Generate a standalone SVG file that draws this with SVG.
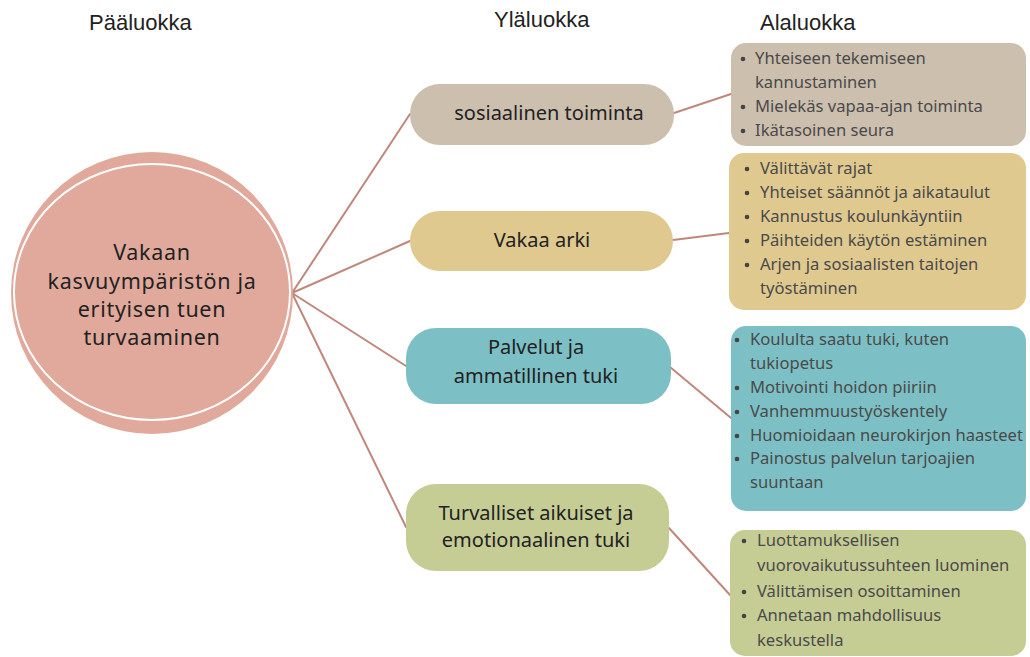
<svg xmlns="http://www.w3.org/2000/svg" width="1030" height="657" viewBox="0 0 1030 657">
<style>
.hdr{font-family:"Liberation Sans",Arial,sans-serif;font-size:22px;fill:#222}
.main{font-family:"Noto Sans","Open Sans",sans-serif;font-size:21.5px;letter-spacing:0.7px;fill:#222;text-anchor:middle}
.pill{font-family:"Noto Sans","Open Sans",sans-serif;font-size:20px;fill:#222;text-anchor:middle}
.li{font-family:"Noto Sans","Open Sans",sans-serif;font-size:16.6px;fill:#4a4a4a}
.conn{stroke:#c0877c;stroke-width:2;fill:none;stroke-linecap:round}
.dot{fill:#444}
</style>
<rect width="1030" height="657" fill="#ffffff"/>
<g id="headers">
<text class="hdr" x="89" y="30">Pääluokka</text>
<text class="hdr" x="494" y="27">Yläluokka</text>
<text class="hdr" x="760" y="30">Alaluokka</text>
</g>
<g id="connectors">
<path class="conn" d="M292 293 L410 114 M292 293 L410 241 M292 293 L406 366 M292 293 L406 527"/>
<path class="conn" d="M674 113 L731 94 M673 240 L729 233 M670 367 L731 418 M669 528 L730 595"/>
</g>
<g id="main">
<ellipse cx="152" cy="293" rx="141" ry="141" fill="#e0a99b"/>
<ellipse cx="152" cy="292" rx="138" ry="128" fill="none" stroke="#ffffff" stroke-width="2"/>
<text class="main" x="152" y="260">Vakaan</text>
<text class="main" x="152" y="289">kasvuympäristön ja</text>
<text class="main" x="152" y="317">erityisen tuen</text>
<text class="main" x="152" y="345">turvaaminen</text>
</g>
<g id="pill1">
<rect x="410" y="84" width="264" height="61" rx="30" fill="#ccbfae"/>
<text class="pill" x="549" y="120">sosiaalinen toiminta</text>
</g>
<g id="pill2">
<rect x="410" y="211" width="263" height="60" rx="30" fill="#dfc98f"/>
<text class="pill" x="542" y="247">Vakaa arki</text>
</g>
<g id="pill3">
<rect x="406" y="328" width="265" height="76" rx="30" fill="#7cc0c5"/>
<text class="pill" x="536" y="354">Palvelut ja</text>
<text class="pill" x="536" y="383">ammatillinen tuki</text>
</g>
<g id="pill4">
<rect x="406" y="484" width="263" height="87" rx="30" fill="#c5cd95"/>
<text class="pill" x="536" y="520">Turvalliset aikuiset ja</text>
<text class="pill" x="536" y="547">emotionaalinen tuki</text>
</g>
<g id="box1">
<rect x="731" y="43" width="295" height="103" rx="15" fill="#ccbfae"/>
<circle class="dot" cx="743" cy="59" r="2.3"/>
<circle class="dot" cx="743" cy="107" r="2.3"/>
<circle class="dot" cx="743" cy="131" r="2.3"/>
<text class="li" x="755" y="64">Yhteiseen tekemiseen</text>
<text class="li" x="755" y="88">kannustaminen</text>
<text class="li" x="755" y="112">Mielekäs vapaa-ajan toiminta</text>
<text class="li" x="755" y="136">Ikätasoinen seura</text>
</g>
<g id="box2">
<rect x="729" y="153" width="297" height="157" rx="15" fill="#dfc98f"/>
<circle class="dot" cx="747" cy="169" r="2.3"/>
<circle class="dot" cx="747" cy="193" r="2.3"/>
<circle class="dot" cx="747" cy="217" r="2.3"/>
<circle class="dot" cx="747" cy="241" r="2.3"/>
<circle class="dot" cx="747" cy="265" r="2.3"/>
<text class="li" x="760" y="174">Välittävät rajat</text>
<text class="li" x="760" y="198">Yhteiset säännöt ja aikataulut</text>
<text class="li" x="760" y="222">Kannustus koulunkäyntiin</text>
<text class="li" x="760" y="246">Päihteiden käytön estäminen</text>
<text class="li" x="760" y="270">Arjen ja sosiaalisten taitojen</text>
<text class="li" x="760" y="294">työstäminen</text>
</g>
<g id="box3">
<rect x="731" y="326" width="295" height="185" rx="15" fill="#7cc0c5"/>
<circle class="dot" cx="737" cy="340" r="2.3"/>
<circle class="dot" cx="737" cy="388" r="2.3"/>
<circle class="dot" cx="737" cy="412" r="2.3"/>
<circle class="dot" cx="737" cy="436" r="2.3"/>
<circle class="dot" cx="737" cy="459" r="2.3"/>
<text class="li" x="750" y="345">Koululta saatu tuki, kuten</text>
<text class="li" x="750" y="369">tukiopetus</text>
<text class="li" x="750" y="393">Motivointi hoidon piiriin</text>
<text class="li" x="750" y="417">Vanhemmuustyöskentely</text>
<text class="li" x="750" y="441">Huomioidaan neurokirjon haasteet</text>
<text class="li" x="750" y="464">Painostus palvelun tarjoajien</text>
<text class="li" x="750" y="488">suuntaan</text>
</g>
<g id="box4">
<rect x="730" y="530" width="296" height="126" rx="15" fill="#c5cd95"/>
<circle class="dot" cx="744" cy="541" r="2.3"/>
<circle class="dot" cx="744" cy="592" r="2.3"/>
<circle class="dot" cx="744" cy="616" r="2.3"/>
<text class="li" x="757" y="546">Luottamuksellisen</text>
<text class="li" x="757" y="571">vuorovaikutussuhteen luominen</text>
<text class="li" x="757" y="597">Välittämisen osoittaminen</text>
<text class="li" x="757" y="621">Annetaan mahdollisuus</text>
<text class="li" x="757" y="646">keskustella</text>
</g>
</svg>
